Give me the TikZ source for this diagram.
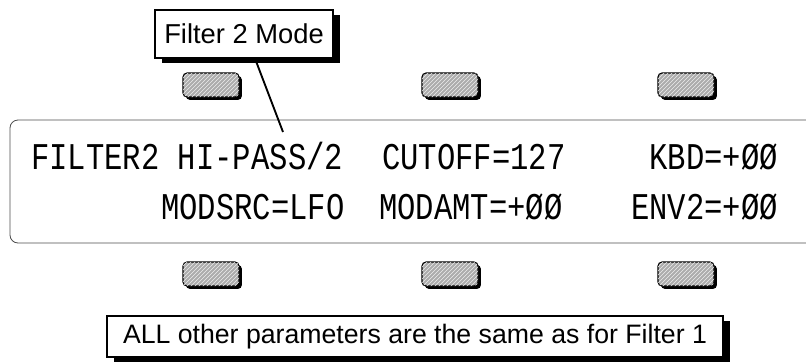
\documentclass[tikz,border=0pt]{standalone}
\usepackage{fontspec}
\setmainfont{Liberation Sans}
\newfontfamily\lcdfont[FakeStretch=0.81]{Liberation Mono}
\usetikzlibrary{shadows,patterns,calc}

\begin{document}
\begin{tikzpicture}[x=0.75pt,y=-0.75pt,
    keycap/.style={draw=black, line width=0.8pt, rounded corners=3pt,
        fill=gray!65, minimum width=42pt, minimum height=18pt, inner sep=0pt,
        postaction={pattern=north east lines, pattern color=gray!15},
        drop shadow={shadow xshift=2.2pt, shadow yshift=-2.2pt, fill=black, opacity=1}},
    callout/.style={draw=black, line width=0.8pt, fill=white, inner sep=0pt,
        drop shadow={shadow xshift=5.5pt, shadow yshift=-3.5pt, fill=black, opacity=1}},
    lcd/.style={font=\lcdfont\fontsize{28.3}{32}\selectfont, inner sep=0pt}]
    \useasboundingbox (0,0) rectangle (806,361);

    % display window, open to the right
    \draw[black!70, line width=0.6pt, rounded corners=6pt]
        (806,120) -- (10,120) -- (10,243) -- (806,243);

    % first line of the display
    \node[lcd, anchor=base west] (fmode) at (31,169) {FILTER2 HI-PASS/2};
    \node[lcd, anchor=base west] (cutoff) at (382,169) {CUTOFF=127};
    \node[lcd, anchor=base east] (kbd) at (778,169) {KBD=+ØØ};
    % second line
    \node[lcd, anchor=base west] (modsrc) at (161,219) {MODSRC=LFO};
    \node[lcd, anchor=base west] (modamt) at (379,219) {MODAMT=+ØØ};
    \node[lcd, anchor=base east] (env2) at (778,219) {ENV2=+ØØ};

    % soft keys above and below
    \foreach \k/\kx in {1/211,2/450,3/686} {
        \node[keycap] (top\k) at (\kx,85) {};
        \node[keycap] (bot\k) at (\kx,274) {};
    }

    % labels
    \node[callout, minimum width=133.5pt, minimum height=36pt,
        font=\fontsize{20.5}{24}\selectfont] (mode) at (244,34) {Filter 2 Mode};
    \coordinate (tip) at (283,132);
    \draw[line width=1.4pt] ($(mode.south)+(11,0)$) -- (tip);

    \node[callout, minimum width=462pt, minimum height=30.75pt,
        font=\fontsize{20}{24}\selectfont] (same) at (415,336.5)
        {ALL other parameters are the same as for Filter 1};
\end{tikzpicture}
\end{document}
